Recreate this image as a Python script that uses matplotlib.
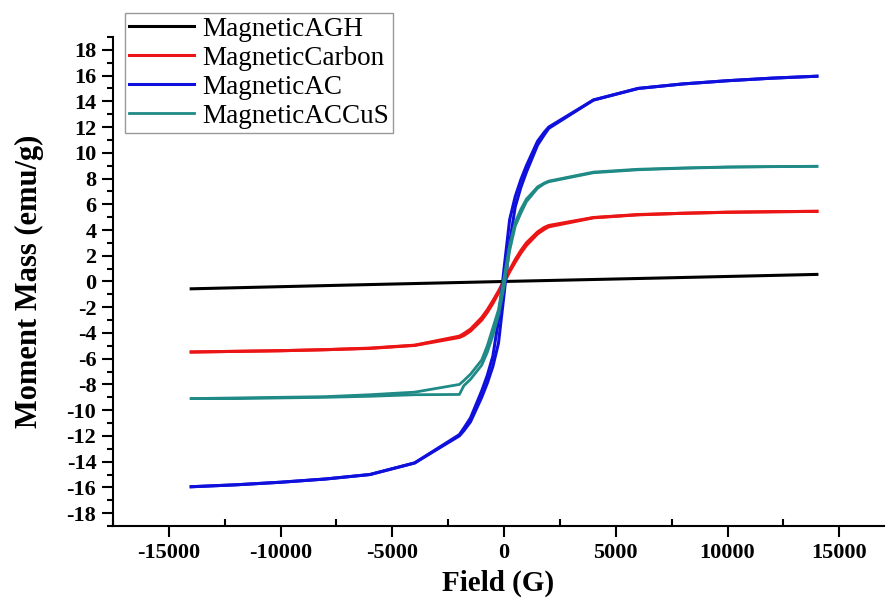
import numpy as np
import matplotlib.pyplot as plt
from matplotlib.ticker import MultipleLocator

# Campo aplicado (G) en la rama descendente; la ascendente es el mismo barrido al revés
campo_baja = [14000, 12000, 10000, 8000, 6000, 4000, 2000, 1800, 1500, 1000, 750, 500, 250, 0,
              -250, -500, -750, -1000, -1500, -1800, -2000, -4000, -6000, -8000, -10000, -12000, -14000]
campo_sube = campo_baja[::-1]

# MagneticAGH: respuesta casi lineal
campo_agh = [14000, 7000, 0, -7000, -14000]
agh = [0.55, 0.27, 0.0, -0.28, -0.57]

# MagneticCarbon
carbon_baja = [5.45, 5.42, 5.38, 5.30, 5.20, 4.97, 4.35, 4.20, 3.85, 3.00, 2.40, 1.70, 0.90, 0.10,
               -0.75, -1.50, -2.20, -2.80, -3.70, -4.05, -4.25, -4.95, -5.18, -5.30, -5.38, -5.43, -5.48]
carbon_sube = [-5.48, -5.43, -5.38, -5.30, -5.20, -4.97, -4.35, -4.20, -3.85, -3.00, -2.40, -1.70, -0.90, -0.10,
               0.75, 1.50, 2.20, 2.80, 3.70, 4.05, 4.25, 4.95, 5.18, 5.30, 5.38, 5.42, 5.45]

# MagneticAC
ac_baja = [15.95, 15.80, 15.60, 15.35, 15.00, 14.10, 12.00, 11.60, 10.90, 9.00, 7.90, 6.60, 4.80, 1.00,
           -3.00, -5.80, -7.30, -8.50, -10.60, -11.40, -11.90, -14.10, -15.00, -15.35, -15.60, -15.80, -15.95]
ac_sube = [-15.95, -15.80, -15.60, -15.35, -15.00, -14.10, -12.00, -11.60, -10.90, -9.00, -7.90, -6.60, -4.80, -1.00,
           3.00, 5.80, 7.30, 8.50, 10.60, 11.40, 11.90, 14.10, 15.00, 15.35, 15.60, 15.80, 15.95]

# MagneticACCuS
accus_baja = [8.95, 8.93, 8.90, 8.82, 8.72, 8.50, 7.80, 7.65, 7.35, 6.40, 5.60, 4.60, 2.80, 0.30,
              -2.20, -3.60, -5.00, -6.10, -7.20, -7.70, -8.00, -8.60, -8.80, -8.95, -9.00, -9.05, -9.10]
accus_sube = [-9.10, -9.10, -9.05, -9.00, -8.92, -8.80, -8.78, -8.10, -7.60, -6.50, -5.50, -4.20, -2.60, -0.40,
              2.40, 4.30, 5.30, 6.20, 7.25, 7.60, 7.75, 8.45, 8.68, 8.80, 8.88, 8.92, 8.95]

plt.rcParams['font.family'] = ['Liberation Serif', 'DejaVu Serif']
plt.rcParams['axes.unicode_minus'] = False

fig = plt.figure(figsize=(8.86, 6.03), dpi=100)
ax = fig.add_axes([0.1275, 0.1277, 0.8702, 0.811])

lw = 2.2
ax.plot(campo_agh, agh, color='black', lw=lw, label='MagneticAGH')
ax.plot(campo_baja, carbon_baja, color='#ec1515', lw=lw, label='MagneticCarbon')
ax.plot(campo_sube, carbon_sube, color='#ec1515', lw=lw)
ax.plot(campo_baja, ac_baja, color='#1010dd', lw=lw, label='MagneticAC')
ax.plot(campo_sube, ac_sube, color='#1010dd', lw=lw)
ax.plot(campo_baja, accus_baja, color='#1f8a86', lw=2.0, label='MagneticACCuS')
ax.plot(campo_sube, accus_sube, color='#1f8a86', lw=2.0)

ax.set_xlim(-17500, 17000)
ax.set_ylim(-19, 19)
ax.set_xticks(np.arange(-15000, 15001, 5000))
ax.set_yticks(np.arange(-18, 19, 2))
ax.xaxis.set_minor_locator(MultipleLocator(2500))
ax.yaxis.set_minor_locator(MultipleLocator(1))

for lado in ['top', 'right']:
    ax.spines[lado].set_visible(False)
for lado in ['left', 'bottom']:
    ax.spines[lado].set_linewidth(1.5)

ax.tick_params(axis='both', which='major', direction='out', length=8, width=1.5, labelsize=16, pad=4)
ax.tick_params(axis='x', which='minor', direction='in', length=5, width=1.5)
ax.tick_params(axis='y', which='minor', direction='out', length=4, width=1.5)
for lbl in ax.get_xticklabels() + ax.get_yticklabels():
    lbl.set_fontweight('bold')

ax.set_xlabel('Field (G)', fontsize=21, fontweight='bold')
ax.set_ylabel('Moment Mass (emu/g)', fontsize=22, fontweight='bold')
ax.xaxis.set_label_coords(0.5, -0.09)
ax.yaxis.set_label_coords(-0.09, 0.5)

leg = ax.legend(loc='upper left', bbox_to_anchor=(0.016, 1.05), fontsize=19.5, frameon=True,
                fancybox=False, edgecolor='#999999', framealpha=1, borderpad=0.15,
                labelspacing=0.15, handlelength=2.4, handletextpad=0.3, borderaxespad=0)
leg.get_frame().set_linewidth(1.0)

plt.savefig('out.png', dpi=100)
